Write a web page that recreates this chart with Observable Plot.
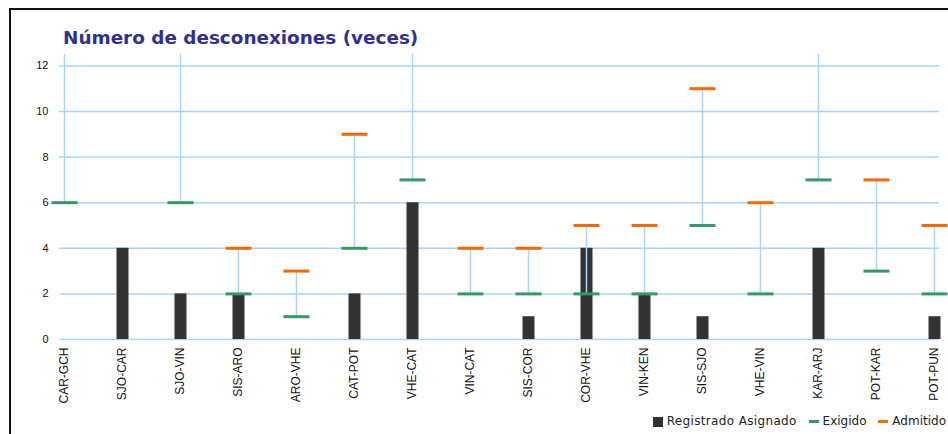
<!DOCTYPE html>
<html>
<head>
<meta charset="utf-8">
<script src="https://cdn.jsdelivr.net/npm/d3@7"></script>
<script src="https://cdn.jsdelivr.net/npm/@observablehq/plot@0.6"></script>
<style>
  html, body { margin: 0; padding: 0; background: #fff; }
  #page { position: relative; width: 948px; height: 434px; overflow: hidden; background: #fff; }
  #frameTop { position: absolute; left: 9px; top: 8px; width: 939px; height: 2px; background: #111; }
  #frameLeft { position: absolute; left: 9px; top: 8px; width: 2px; height: 426px; background: #111; }
  #title { margin: 26px 0 0 63px; height: 24px; line-height: 24px; font-family: "DejaVu Sans", Verdana, sans-serif; font-weight: bold; font-size: 18.4px; color: #2E3192; white-space: nowrap; }
  #chart svg { display: block; }
  #legend { height: 22px; line-height: 22px; text-align: right; padding-right: 2px; font-family: "DejaVu Sans", Verdana, sans-serif; font-size: 12px; color: #222; white-space: nowrap; }
  .sw { display: inline-block; vertical-align: middle; margin-right: 4px; }
  .item { margin-left: 8px; }
</style>
</head>
<body>
<div id="page">
  <div id="title">Número de desconexiones (veces)</div>
  <div id="chart"></div>
  <div id="legend">
    <span class="item"><span class="sw" style="width:10px;height:10px;background:#333;"></span><span style="letter-spacing:0.35px">Registrado Asignado</span></span>
    <span class="item"><span class="sw" style="width:10px;height:3px;background:#339966;"></span>Exigido</span>
    <span class="item"><span class="sw" style="width:10px;height:3px;background:#FF6600;"></span>Admitido</span>
  </div>
  <div id="frameTop"></div>
  <div id="frameLeft"></div>
</div>
<script>
const categories = ["CAR-GCH","SJO-CAR","SJO-VIN","SIS-ARO","ARO-VHE","CAT-POT","VHE-CAT","VIN-CAT","SIS-COR","COR-VHE","VIN-KEN","SIS-SJO","VHE-VIN","KAR-ARJ","POT-KAR","POT-PUN"];
const registrado = [0, 4, 2, 2, 0, 2, 6, 0, 1, 4, 2, 1, 0, 4, 0, 1];
const exigido    = [6, null, 6, 2, 1, 4, 7, 2, 2, 2, 2, 5, 2, 7, 3, 2];
const admitido   = [null, null, null, 4, 3, 9, null, 4, 4, 5, 5, 11, 6, null, 7, 5];
const yTicks = [0, 2, 4, 6, 8, 10, 12];
const yMax = 12.5;

const rows = categories.map((c, i) => ({cat: c, reg: registrado[i], exi: exigido[i], adm: admitido[i]}));
const grid = "#AAD4FF";
const capHalf = 13;
const capSymbol = {draw(ctx) { ctx.moveTo(-capHalf, 0); ctx.lineTo(capHalf, 0); }};

const chart = Plot.plot({
  width: 948,
  height: 360,
  marginLeft: 59,
  marginRight: 9,
  marginTop: 4,
  marginBottom: 71,
  style: {fontFamily: "'Liberation Sans', Arial, sans-serif", fontSize: "11px", color: "#111", background: "#fff"},
  x: {type: "point", domain: categories, padding: 0},
  y: {domain: [0, yMax]},
  marks: [
    Plot.gridY(yTicks, {stroke: grid, strokeOpacity: 1, strokeWidth: 1.5}),
    Plot.ruleX(rows.filter(d => d.reg > 0), {x: "cat", y1: 0, y2: "reg", stroke: "#333", strokeWidth: 12}),
    Plot.ruleX(rows.filter(d => d.exi != null), {x: "cat", y1: "exi", y2: d => d.adm ?? yMax, stroke: grid, strokeWidth: 1.5}),
    Plot.dot(rows.filter(d => d.exi != null), {x: "cat", y: "exi", symbol: capSymbol, r: 5, fill: "none", stroke: "#339966", strokeWidth: 3}),
    Plot.dot(rows.filter(d => d.adm != null), {x: "cat", y: "adm", symbol: capSymbol, r: 5, fill: "none", stroke: "#FF6600", strokeWidth: 3}),
    Plot.axisY(yTicks, {tickSize: 0, tickPadding: 11, label: null, fontSize: 11}),
    Plot.axisX({tickSize: 0, tickPadding: 8, tickRotate: -90, label: null, fontSize: 12})
  ]
});
document.getElementById("chart").appendChild(chart);
</script>
</body>
</html>
